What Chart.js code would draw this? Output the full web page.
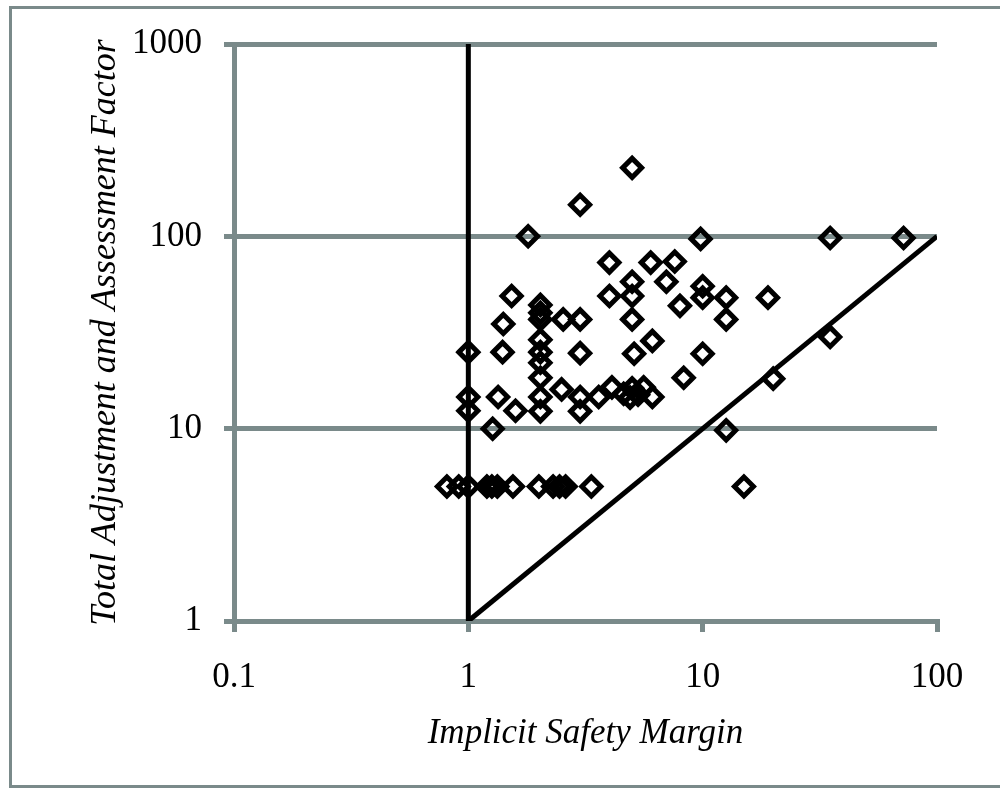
<!DOCTYPE html>
<html>
<head>
<meta charset="utf-8">
<script src="https://cdn.jsdelivr.net/npm/chart.js@4"></script>
<style>
  html, body { margin: 0; padding: 0; background: #fff; }
</style>
</head>
<body>
<canvas id="chart" width="1000" height="789"></canvas>
<script>
// Implicit safety margin (x) vs total adjustment and assessment factor (y)
const marginX = [
  5, 3, 1.8, 9.8, 35, 72,
  4, 6, 7.6, 5, 7, 4, 5, 1.53, 10, 10, 12.6, 19, 8,
  2.03, 2.03, 2.03, 2.54, 3, 5, 12.6, 1.41, 2.03, 6.1, 35,
  1, 1.4, 2.03, 3, 5.1, 10, 2.03, 2.03, 8.3, 20, 2.5,
  1, 1.34, 2.03, 3, 3.6, 4.1, 4.6, 4.9, 5.0, 5.3, 5.6, 6.1,
  1, 1.59, 2.03, 3, 1.27, 12.6, 15,
  0.81, 0.91, 1.0, 1.2, 1.26, 1.33, 1.55, 2.0, 2.3, 2.45, 2.6, 3.35
];
const factorY = [
  227, 146, 100, 97, 98, 98,
  73, 73, 74, 58, 58, 49, 49, 49, 55, 48, 48, 48, 43.5,
  44, 40, 37, 37, 37, 37, 37, 35, 29, 28.6, 30,
  25, 25, 25, 24.7, 24.5, 24.5, 22, 18.4, 18.4, 18.2, 16,
  14.6, 14.6, 14.6, 14.6, 14.6, 16.4, 15.2, 14.5, 16.2, 15, 16.4, 14.6,
  12.4, 12.4, 12.3, 12.3, 10, 9.8, 5,
  5, 5, 5, 5, 5, 5, 5, 5, 5, 5, 5, 5
];

// reference lines
const verticalLine = [{ x: 1, y: 1 }, { x: 1, y: 1000 }];
const diagonalLine = [{ x: 1, y: 1 }, { x: 100, y: 100 }];

const xTicks = [0.1, 1, 10, 100];
const yTicks = [1, 10, 100, 1000];

const gray = "#7a8a8a";
const serif = "'Liberation Serif', 'Times New Roman', serif";

const points = marginX.map((x, i) => ({ x: x, y: factorY[i] }));

// white background and the outer frame
const framePlugin = {
  id: "frame",
  beforeDraw(chart) {
    const ctx = chart.ctx;
    ctx.save();
    ctx.fillStyle = "#fff";
    ctx.fillRect(0, 0, chart.width, chart.height);
    ctx.strokeStyle = gray;
    ctx.lineWidth = 3;
    ctx.strokeRect(10.5, 7.5, 1000, 779);
    ctx.restore();
  }
};

new Chart(document.getElementById("chart").getContext("2d"), {
  type: "scatter",
  data: {
    datasets: [
      {
        data: points,
        pointStyle: "rectRot",
        pointRadius: 9.5,
        borderWidth: 5,
        borderColor: "#000",
        backgroundColor: "rgba(0,0,0,0)"
      },
      {
        data: verticalLine,
        showLine: true,
        borderColor: "#000",
        borderWidth: 5,
        pointRadius: 0
      },
      {
        data: diagonalLine,
        showLine: true,
        borderColor: "#000",
        borderWidth: 5,
        pointRadius: 0
      }
    ]
  },
  options: {
    responsive: false,
    devicePixelRatio: 1,
    animation: false,
    events: [],
    layout: { padding: { top: 44, right: 63, left: 0, bottom: 0 } },
    plugins: {
      legend: { display: false },
      tooltip: { enabled: false }
    },
    scales: {
      x: {
        type: "logarithmic",
        min: 0.1,
        max: 100,
        afterBuildTicks: (scale) => { scale.ticks = xTicks.map(v => ({ value: v })); },
        afterFit: (scale) => { scale.height = 168; },
        ticks: {
          callback: (v) => String(v),
          font: { family: serif, size: 35 },
          color: "#000",
          padding: 25,
          maxRotation: 0
        },
        grid: { drawOnChartArea: false, drawTicks: true, tickLength: 11, color: gray, lineWidth: 5 },
        border: { color: gray, width: 5 },
        title: {
          display: true,
          text: "Implicit Safety Margin",
          font: { family: serif, size: 35, style: "italic" },
          color: "#000",
          padding: { top: 0, bottom: 34 }
        }
      },
      y: {
        type: "logarithmic",
        min: 1,
        max: 1000,
        afterBuildTicks: (scale) => { scale.ticks = yTicks.map(v => ({ value: v })); },
        afterFit: (scale) => { scale.width = 234; },
        ticks: {
          callback: (v) => String(v),
          font: { family: serif, size: 35 },
          color: "#000",
          padding: 22
        },
        grid: { drawTicks: true, tickLength: 10, color: gray, lineWidth: 5 },
        border: { color: gray, width: 5 },
        title: {
          display: true,
          text: "Total Adjustment and Assessment Factor",
          font: { family: serif, size: 36, style: "italic" },
          color: "#000",
          padding: { top: 84, bottom: 0 }
        }
      }
    }
  },
  plugins: [framePlugin]
});
</script>
</body>
</html>
